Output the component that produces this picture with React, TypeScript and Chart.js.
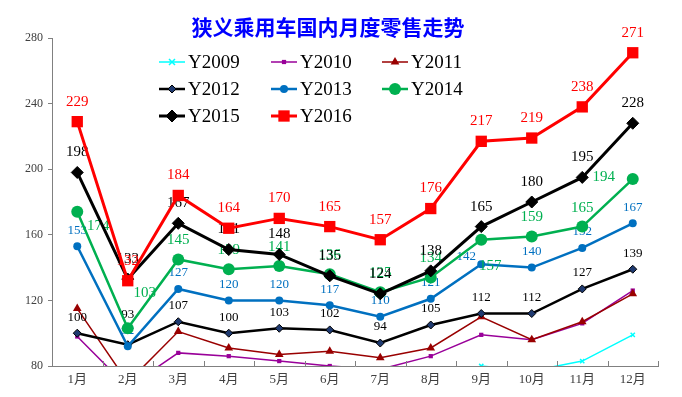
import { useEffect, useRef } from 'react';
import { Chart, registerables } from 'chart.js';

Chart.register(...registerables);

const TITLE = '狭义乘用车国内月度零售走势';
const months = ['1月', '2月', '3月', '4月', '5月', '6月', '7月', '8月', '9月', '10月', '11月', '12月'];
const yMin = 80;
const yMax = 280;
const yStep = 40;

const Y2009 = [65, 58, 62, 60, 58, 60, 62, 68, 80, 77, 83, 99];
const Y2010 = [98, 67, 88, 86, 83, 80, 78, 86, 99, 96, 106, 126];
const Y2011 = [115, 70, 101, 91, 87, 89, 85, 91, 110, 96, 107, 124];
const Y2012 = [100, 93, 107, 100, 103, 102, 94, 105, 112, 112, 127, 139];
const Y2013 = [153, 92, 127, 120, 120, 117, 110, 121, 142, 140, 152, 167];
const Y2014 = [174, 103, 145, 139, 141, 136, 125, 134, 157, 159, 165, 194];
const Y2015 = [198, 133, 167, 151, 148, 135, 124, 138, 165, 180, 195, 228];
const Y2016 = [229, 132, 184, 164, 170, 165, 157, 176, 217, 219, 238, 271];

type Style = {
  name: string;
  data: number[];
  color: string;
  width: number;
  point: string;
  radius: number;
  fill: string;
  labels: boolean;
  labelSize: number;
  labelDy: number;
};

const series: Style[] = [
  { name: 'Y2009', data: Y2009, color: '#00FFFF', width: 1.5, point: 'crossRot', radius: 3, fill: '#00FFFF', labels: false, labelSize: 0, labelDy: 0 },
  { name: 'Y2010', data: Y2010, color: '#990099', width: 1.5, point: 'rect', radius: 3, fill: '#990099', labels: false, labelSize: 0, labelDy: 0 },
  { name: 'Y2011', data: Y2011, color: '#990000', width: 1.5, point: 'triangle', radius: 5, fill: '#990000', labels: false, labelSize: 0, labelDy: 0 },
  { name: 'Y2012', data: Y2012, color: '#000000', width: 2.5, point: 'rectRot', radius: 4, fill: '#1F3A70', labels: true, labelSize: 13, labelDy: -16 },
  { name: 'Y2013', data: Y2013, color: '#0070C0', width: 2.5, point: 'circle', radius: 4, fill: '#0070C0', labels: true, labelSize: 13, labelDy: -16 },
  { name: 'Y2014', data: Y2014, color: '#00B050', width: 2.5, point: 'circle', radius: 6, fill: '#00B050', labels: true, labelSize: 15, labelDy: -19 },
  { name: 'Y2015', data: Y2015, color: '#000000', width: 3, point: 'rectRot', radius: 6, fill: '#000000', labels: true, labelSize: 15, labelDy: -20 },
  { name: 'Y2016', data: Y2016, color: '#FF0000', width: 3, point: 'rect', radius: 8, fill: '#FF0000', labels: true, labelSize: 15, labelDy: -20 },
];

// manual label displacements [dx, dy] (series-index)
const labelMoves: Record<string, [number, number]> = {
  'Y2014-0': [21, 14],
  'Y2014-1': [17, -35],
  'Y2014-8': [9, 26],
  'Y2014-11': [-29, -2],
  'Y2013-8': [-15, -8],
  'Y2012-1': [0, -30],
};

const SERIF = '"Liberation Serif", "Noto Sans CJK SC", serif';

function drawMarker(ctx: CanvasRenderingContext2D, s: Style, x: number, y: number) {
  const r = s.radius;
  ctx.save();
  ctx.fillStyle = s.fill;
  ctx.strokeStyle = s.color;
  ctx.lineWidth = 1;
  ctx.beginPath();
  if (s.point === 'rect') {
    const h = r * Math.SQRT1_2;
    ctx.rect(x - h, y - h, 2 * h, 2 * h);
    ctx.fill();
  } else if (s.point === 'rectRot') {
    ctx.moveTo(x, y - r);
    ctx.lineTo(x + r, y);
    ctx.lineTo(x, y + r);
    ctx.lineTo(x - r, y);
    ctx.closePath();
    ctx.fill();
    ctx.stroke();
  } else if (s.point === 'circle') {
    ctx.arc(x, y, r, 0, Math.PI * 2);
    ctx.fill();
  } else if (s.point === 'triangle') {
    ctx.moveTo(x, y - r);
    ctx.lineTo(x + r * 0.87, y + r * 0.5);
    ctx.lineTo(x - r * 0.87, y + r * 0.5);
    ctx.closePath();
    ctx.fill();
  } else {
    ctx.lineWidth = 1.5;
    ctx.moveTo(x - r, y - r);
    ctx.lineTo(x + r, y + r);
    ctx.moveTo(x + r, y - r);
    ctx.lineTo(x - r, y + r);
    ctx.stroke();
  }
  ctx.restore();
}

const overlay = {
  id: 'overlay',
  afterDatasetDraw(chart: any, args: any) {
    const s = series[args.index];
    if (!s || !s.labels) return;
    const ctx = chart.ctx as CanvasRenderingContext2D;
    ctx.save();
    ctx.font = `${s.labelSize}px ${SERIF}`;
    ctx.fillStyle = s.color;
    ctx.textAlign = 'center';
    ctx.textBaseline = 'middle';
    args.meta.data.forEach((pt: any, i: number) => {
      const mv = labelMoves[`${s.name}-${i}`] || [0, s.labelDy];
      ctx.fillText(String(s.data[i]), pt.x + mv[0], pt.y + mv[1]);
    });
    ctx.restore();
  },
  afterDraw(chart: any) {
    const ctx = chart.ctx as CanvasRenderingContext2D;
    const area = chart.chartArea;
    // title
    ctx.save();
    ctx.font = 'bold 21px "Noto Sans CJK SC", sans-serif';
    ctx.fillStyle = '#0000FF';
    ctx.textAlign = 'center';
    ctx.textBaseline = 'middle';
    ctx.fillText(TITLE, 328, 27);
    ctx.restore();
    // x tick marks at category boundaries (inside)
    ctx.save();
    ctx.strokeStyle = '#808080';
    ctx.lineWidth = 1;
    const n = months.length;
    const w = (area.right - area.left) / n;
    for (let i = 0; i <= n; i++) {
      const x = Math.round(area.left + i * w) + 0.5;
      ctx.beginPath();
      ctx.moveTo(x, area.bottom - 5);
      ctx.lineTo(x, area.bottom);
      ctx.stroke();
    }
    ctx.restore();
    // legend
    const cols = [159, 271, 382];
    const rows = [62, 89, 116];
    series.forEach((s, i) => {
      const x0 = cols[i % 3];
      const y = rows[Math.floor(i / 3)];
      ctx.save();
      ctx.strokeStyle = s.color;
      ctx.lineWidth = s.width;
      ctx.beginPath();
      ctx.moveTo(x0, y);
      ctx.lineTo(x0 + 26, y);
      ctx.stroke();
      ctx.restore();
      drawMarker(ctx, s, x0 + 13, y);
      ctx.save();
      ctx.font = `19px ${SERIF}`;
      ctx.fillStyle = '#000000';
      ctx.textAlign = 'left';
      ctx.textBaseline = 'middle';
      ctx.fillText(s.name, x0 + 29, y + 1);
      ctx.restore();
    });
  },
};

export default function App() {
  const ref = useRef<HTMLCanvasElement>(null);
  useEffect(() => {
    document.body.style.margin = '0';
    const canvas = ref.current;
    if (!canvas) return;
    const chart = new Chart(canvas, {
      type: 'line',
      data: {
        labels: months,
        datasets: series.map((s, i) => ({
          label: s.name,
          data: s.data,
          borderColor: s.color,
          backgroundColor: s.fill,
          borderWidth: s.width,
          pointStyle: s.point as any,
          pointRadius: s.radius,
          pointBackgroundColor: s.fill,
          pointBorderColor: s.color,
          pointBorderWidth: s.point === 'rectRot' ? 1 : s.point === 'crossRot' ? 1.5 : 0,
          tension: 0,
          fill: false,
          order: 10 - i,
        })),
      },
      options: {
        responsive: false,
        animation: false,
        events: [],
        layout: { padding: { top: 38, right: 24, bottom: 0, left: 0 } },
        plugins: {
          legend: { display: false },
          title: { display: false },
          tooltip: { enabled: false },
        },
        scales: {
          x: {
            offset: true,
            grid: { display: true, drawOnChartArea: false, drawTicks: false, offset: true, color: '#808080' },
            border: { display: true, color: '#808080', width: 1 },
            ticks: { color: '#404040', font: { family: SERIF, size: 13 }, padding: 6, maxRotation: 0, autoSkip: false },
            afterFit: (s: any) => { s.height = 31; },
          },
          y: {
            min: yMin,
            max: yMax,
            ticks: { stepSize: yStep, color: '#404040', font: { family: SERIF, size: 12 }, padding: 5 },
            grid: { display: true, drawOnChartArea: false, drawTicks: true, tickLength: 4, color: '#808080' },
            border: { display: true, color: '#808080', width: 1 },
            afterFit: (s: any) => { s.width = 52; },
          },
        },
      },
      plugins: [overlay],
    });
    return () => chart.destroy();
  }, []);
  return <canvas ref={ref} width={682} height={397} style={{ display: 'block' }} />;
}
